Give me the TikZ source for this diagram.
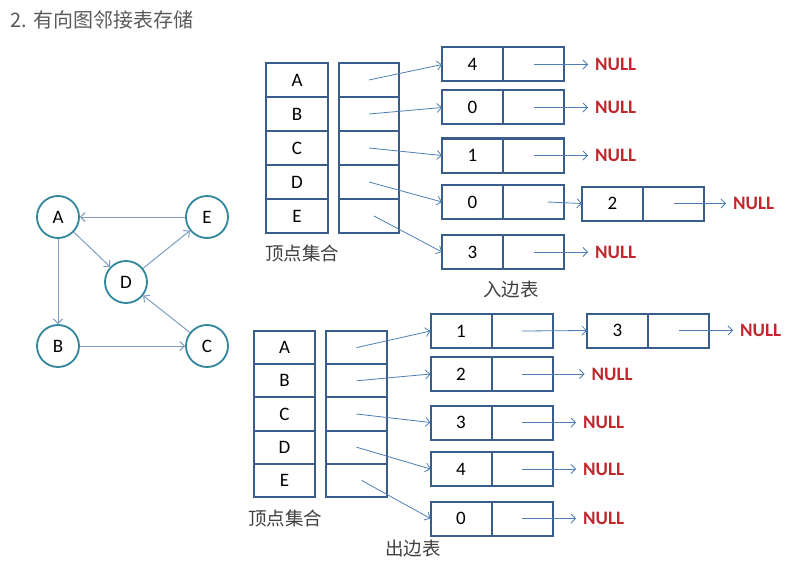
\documentclass[tikz,border=0pt]{standalone}
\usepackage{fontspec}
\setmainfont{Carlito}
\newfontfamily\cjk{Noto Sans CJK SC}
\usetikzlibrary{arrows.meta}
\usetikzlibrary{positioning}

\definecolor{boxblue}{HTML}{385D8A}
\definecolor{linkblue}{HTML}{4F7DB5}
\definecolor{circteal}{HTML}{31859C}
\definecolor{edgegray}{HTML}{7E9DC0}
\definecolor{nullred}{HTML}{C0282D}

\begin{document}
\begin{tikzpicture}[x=1pt,y=-1pt,
  cell/.style={draw=boxblue, line width=2pt, outer sep=0pt, inner sep=0pt,
    minimum width=61pt, minimum height=34pt, font=\fontsize{19}{19}\selectfont},
  vert/.style={circle, draw=circteal, line width=1.8pt, minimum size=42pt,
    inner sep=0pt, font=\fontsize{19}{19}\selectfont},
  link/.style={linkblue, line width=0.8pt, -{Straight Barb[length=4.5pt,width=9pt]}},
  garrow/.style={edgegray, line width=1pt, -{Straight Barb[length=4.5pt,width=9pt]}},
  nulltxt/.style={nullred, inner sep=0pt, inner xsep=7pt, font=\fontsize{19}{19}\selectfont\bfseries},
  lbl/.style={text=black!75, font=\cjk\fontsize{18.5}{18.5}\selectfont}]
\useasboundingbox (0,0) rectangle (800,583);

% Title
\node[anchor=west, text=black!65, font=\cjk\fontsize{20}{20}\selectfont] (title) at (7,20) {2. 有向图邻接表存储};

% Directed graph
\node[vert] (A) at (58,217) {A};
\node[vert] (E) at (207,217) {E};
\node[vert] (D) at (126,282) {D};
\node[vert] (B) at (58,346) {B};
\node[vert] (C) at (207,346) {C};
\draw[garrow] (E) -- (A);
\draw[garrow] (A) -- (D);
\draw[garrow] (D) -- (E);
\draw[garrow] (A) -- (B);
\draw[garrow] (B) -- (C);
\draw[garrow] (C) -- (D);

% In-edge table: vertex set
\foreach \v [count=\i] in {A,B,C,D,E} {
  \node[cell, minimum width=62pt] (iv\v) at (297, {46+34*\i}) {\v};
  \node[cell, minimum width=60pt] (ip\v) at (369, {46+34*\i}) {};
}
\node[lbl] (iset) at (302,253) {顶点集合};

% In-edge lists
\node[cell] (in1) at (472.5,64.5) {4};
\node[cell, right=0pt of in1] (in1n) {};
\node[cell] (in2) at (472.5,107.5) {0};
\node[cell, right=0pt of in2] (in2n) {};
\node[cell] (in3) at (472.5,155.5) {1};
\node[cell, right=0pt of in3] (in3n) {};
\node[cell] (in4) at (472.5,202) {0};
\node[cell, right=0pt of in4] (in4n) {};
\node[cell] (in4b) at (612.5,203.5) {2};
\node[cell, right=0pt of in4b] (in4bn) {};
\node[cell] (in5) at (472.5,252) {3};
\node[cell, right=0pt of in5] (in5n) {};

\node[nulltxt, right=24pt of in1n] (inull1) {NULL};
\node[nulltxt, right=24pt of in2n] (inull2) {NULL};
\node[nulltxt, right=24pt of in3n] (inull3) {NULL};
\node[nulltxt, right=22pt of in4bn] (inull4) {NULL};
\node[nulltxt, right=24pt of in5n] (inull5) {NULL};

\draw[link] (ipA.center) -- (in1.west);
\draw[link] (ipB.center) -- (in2.west);
\draw[link] (ipC.center) -- (in3.west);
\draw[link] (ipD.center) -- (in4.west);
\draw[link] ([xshift=5pt]ipE.center) -- (in5.west);
\draw[link] (in1n.center) -- (inull1);
\draw[link] (in2n.center) -- (inull2);
\draw[link] (in3n.center) -- (inull3);
\draw[link] ([xshift=14pt]in4n.center) -- (in4b.west);
\draw[link] (in4bn.center) -- (inull4);
\draw[link] (in5n.center) -- (inull5);
\node[lbl] (intab) at (511,289) {入边表};

% Out-edge table: vertex set
\foreach \v [count=\i] in {A,B,C,D,E} {
  \node[cell, minimum width=61pt, minimum height=33.2pt] (ov\v) at (284.5, {314.4+33.2*\i}) {\v};
  \node[cell, minimum width=61pt, minimum height=33.2pt] (op\v) at (356.5, {314.4+33.2*\i}) {};
}
\node[lbl] (oset) at (285,518) {顶点集合};

% Out-edge lists
\node[cell] (out1) at (461,331) {1};
\node[cell, right=0pt of out1] (out1n) {};
\node[cell] (out1b) at (617.5,330.5) {3};
\node[cell, right=0pt of out1b] (out1bn) {};
\node[cell] (out2) at (461,374) {2};
\node[cell, right=0pt of out2] (out2n) {};
\node[cell] (out3) at (461,422.5) {3};
\node[cell, right=0pt of out3] (out3n) {};
\node[cell] (out4) at (461,469) {4};
\node[cell, right=0pt of out4] (out4n) {};
\node[cell] (out5) at (461,518.5) {0};
\node[cell, right=0pt of out5] (out5n) {};

\node[nulltxt, right=24pt of out1bn] (onull1) {NULL};
\node[nulltxt, right=32pt of out2n] (onull2) {NULL};
\node[nulltxt, right=23.5pt of out3n] (onull3) {NULL};
\node[nulltxt, right=23.5pt of out4n] (onull4) {NULL};
\node[nulltxt, right=23.5pt of out5n] (onull5) {NULL};

\draw[link] (opA.center) -- (out1.west);
\draw[link] (opB.center) -- (out2.west);
\draw[link] (opC.center) -- (out3.west);
\draw[link] (opD.center) -- (out4.west);
\draw[link] ([xshift=5pt]opE.center) -- (out5.west);
\draw[link] (out1n.center) -- (out1b.west);
\draw[link] (out1bn.center) -- (onull1);
\draw[link] (out2n.center) -- (onull2);
\draw[link] (out3n.center) -- (onull3);
\draw[link] (out4n.center) -- (onull4);
\draw[link] (out5n.center) -- (onull5);
\node[lbl] (outtab) at (413,548) {出边表};
\end{tikzpicture}
\end{document}
